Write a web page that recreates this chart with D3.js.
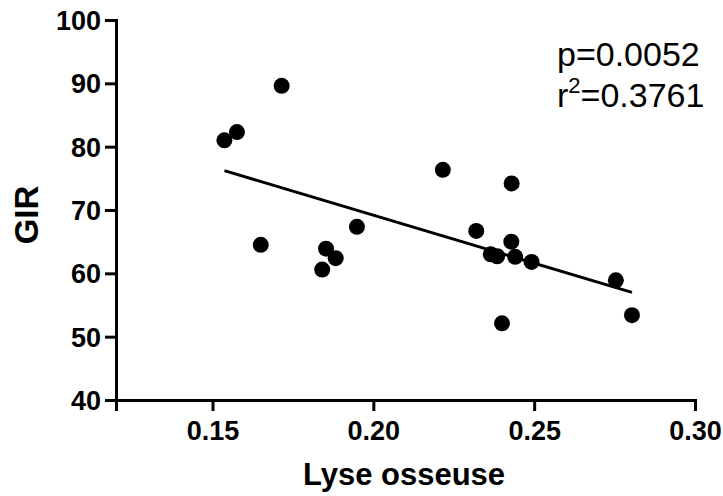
<!DOCTYPE html>
<html><head><meta charset="utf-8">
<script src="https://cdn.jsdelivr.net/npm/d3@7"></script>
<style>body{margin:0;background:#fff}svg{display:block}</style>
</head><body>
<svg id="c" width="723" height="496"></svg>
<script>
const lyse = [0.1537,0.1576,0.1715,0.1650,0.1841,0.1853,0.1883,0.1949,0.2216,0.2320,0.2365,0.2385,0.2400,0.2429,0.2430,0.2441,0.2492,0.2754,0.2804];
const gir  = [81.0,82.3,89.6,64.5,60.6,63.9,62.4,67.35,76.35,66.7,63.0,62.7,52.1,65.0,74.2,62.6,61.8,58.9,53.4];
const xTicks = [0.15,0.20,0.25,0.30];
const yTicks = [40,50,60,70,80,90,100];
const statLines = ["p=0.0052","r2=0.3761"];

const svg = d3.select("#c");
const x = d3.scaleLinear().domain([0.12,0.30]).range([116,695]);
const y = d3.scaleLinear().domain([40,100]).range([400,20]);
const font = "Liberation Sans, Arial, sans-serif";

const xa = svg.append("g").attr("transform","translate(0,400)")
  .call(d3.axisBottom(x).tickValues(xTicks).tickFormat(d3.format(".2f")).tickSizeOuter(0).tickSize(11).tickPadding(10));
const ya = svg.append("g").attr("transform","translate(116,0)")
  .call(d3.axisLeft(y).tickValues(yTicks).tickSizeOuter(0).tickSize(11).tickPadding(4));
[xa,ya].forEach(a=>{
  a.select(".domain").attr("stroke","#000").attr("stroke-width",3);
  a.selectAll(".tick line").attr("stroke","#000").attr("stroke-width",3);
  a.selectAll(".tick text").attr("fill","#000").style("font-family",font).style("font-weight","bold").style("font-size","27px");
});
ya.selectAll(".tick text").attr("dy","0.35em");

// regression
const n = lyse.length, mx = d3.mean(lyse), my = d3.mean(gir);
let sxy=0, sxx=0;
for(let i=0;i<n;i++){sxy+=(lyse[i]-mx)*(gir[i]-my); sxx+=(lyse[i]-mx)**2;}
const b = sxy/sxx, a0 = my - b*mx;
const [x0,x1] = d3.extent(lyse);
svg.append("line").attr("x1",x(x0)).attr("y1",y(a0+b*x0)).attr("x2",x(x1)).attr("y2",y(a0+b*x1))
  .attr("stroke","#000").attr("stroke-width",3);

svg.append("g").selectAll("circle").data(lyse).join("circle")
  .attr("cx",(d)=>x(d)).attr("cy",(d,i)=>y(gir[i])).attr("r",8).attr("fill","#000");

// axis titles
svg.append("text").attr("x",404).attr("y",485).attr("text-anchor","middle")
  .style("font-family",font).style("font-weight","bold").style("font-size","31px").text("Lyse osseuse");
svg.append("text").attr("transform","translate(38,215) rotate(-90)").attr("text-anchor","middle")
  .style("font-family",font).style("font-weight","bold").style("font-size","33px").text("GIR");

// stats
const st = svg.append("g").style("font-family",font).style("font-size","34px");
st.append("text").attr("x",557).attr("y",66).text(statLines[0]);
const t2 = st.append("text").attr("x",557).attr("y",107);
t2.append("tspan").text("r");
t2.append("tspan").attr("dy",-14).style("font-size","22px").text("2");
t2.append("tspan").attr("dy",14).text("=0.3761");
</script>
</body></html>
